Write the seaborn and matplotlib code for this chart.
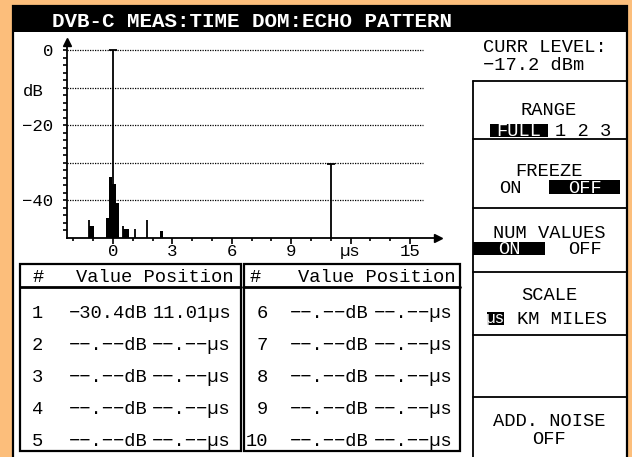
import matplotlib
matplotlib.use("Agg")
import matplotlib.pyplot as plt
from matplotlib.patches import Rectangle
import seaborn as sns

# echo data (µs, dB)
stem_us = [-1.22, 0.0, 0.52, 1.12, 1.74, 11.01]
stem_db = [-45.3, 0.0, -46.7, -47.6, -45.3, -30.4]
block_us = [-1.12, -1.03, -0.27, -0.13, 0.05, 0.23, 0.61, 0.72, 2.44]
block_db = [-46.7, -46.7, -44.8, -33.7, -35.6, -40.8, -47.7, -47.7, -48.1]
floor_db = -50

grid_db = [0, -10, -20, -30, -40]
ytick_labels = ["0", "", "−20", "", "−40"]
xtick_vals = [0, 3, 6, 9, 12, 15]
xtick_labels = ["0", "3", "6", "9", "µs", "15"]

title = "DVB-C MEAS:TIME DOM:ECHO PATTERN"
curr_level = ["CURR LEVEL:", "−17.2 dBm"]
echo_no = ["1", "2", "3", "4", "5", "6", "7", "8", "9", "10"]
echo_val = ["−30.4dB"] + ["−−.−−dB"] * 9
echo_pos = ["11.01µs"] + ["−−.−−µs"] * 9

sns.set_style("white")
plt.rcParams["font.family"] = ["Liberation Mono", "DejaVu Sans Mono"]
plt.rcParams["text.color"] = "k"

W, H = 632, 457
fig = plt.figure(figsize=(W / 100, H / 100), dpi=100, facecolor="#FCBE7B")

# ---- screen furniture, drawn in pixel coords
bg = fig.add_axes([0, 0, 1, 1])
bg.set_xlim(0, W)
bg.set_ylim(H, 0)
bg.axis("off")

FS = 13.5


def txt(x, y, s, size=FS, **kw):
    # y is the vertical middle of the capitals (of the last line), in pixels
    bg.text(x, y + 0.32 * size * 100 / 72, s, fontsize=size, va="baseline", **kw)


bg.add_patch(Rectangle((12.5, 6), 614, 470, fc="white", ec="k", lw=1.6))
bg.add_patch(Rectangle((12.5, 6), 614, 26, fc="k", lw=0))
txt(52, 20.5, title, size=15, color="white", fontweight="bold", ha="left")

txt(483, 63.5, "\n".join(curr_level), ha="left", linespacing=1.05)

# right soft-key panel
bg.plot([473, 473], [81, 470], color="k", lw=1.3)
for y in [81, 139, 208, 272, 335, 397]:
    bg.plot([473, 626], [y, y], color="k", lw=1.3)
PC = 549
txt(PC, 109, "RANGE", ha="center")
bg.add_patch(Rectangle((490, 124), 58, 13, fc="k", lw=0))
txt(519, 130.5, "FULL", ha="center", color="white")
txt(583, 130.5, "1 2 3", ha="center")

txt(PC, 170, "FREEZE", ha="center")
txt(510, 187, "ON", ha="center")
bg.add_patch(Rectangle((549, 180), 71, 14, fc="k", lw=0))
txt(585, 187, "OFF", ha="center", color="white")

txt(PC, 232, "NUM VALUES", ha="center")
bg.add_patch(Rectangle((473, 242), 72, 13, fc="k", lw=0))
txt(509, 248.5, "ON", ha="center", color="white")
txt(585, 248.5, "OFF", ha="center")

txt(PC, 294, "SCALE", ha="center")
bg.add_patch(Rectangle((487, 312), 17, 13, fc="k", lw=0))
txt(495.5, 317.5, "µs", size=FS - 2, ha="center", color="white")
txt(562, 318.5, "KM MILES", ha="center")

txt(PC, 420.5, "ADD. NOISE", ha="center")
txt(PC, 437.5, "OFF", ha="center")

# echo tables
tables = [(20, 241, 38, 43, 69, 231, 234), (244, 460, 255, 268, 290, 453, 455)]
for t, (xl, xr, xhash, xno, xval, xpos, xhead) in enumerate(tables):
    bg.add_patch(Rectangle((xl, 264), xr - xl, 187, fill=False, ec="k", lw=1.6))
    bg.plot([xl, xr], [287, 287], color="k", lw=2)
    txt(xhash, 276, "#", ha="center")
    txt(xhead, 276, "Value Position", ha="right")
    for r in range(5):
        i = t * 5 + r
        y = 311.5 + 32.1 * r
        txt(xno, y, echo_no[i], ha="right")
        txt(xval, y, echo_val[i], ha="left")
        txt(xpos, y, echo_pos[i], ha="right")

# ---- echo pattern plot
US0, PX_US = 113, 19.8
DB0, PX_DB = 50, 3.76
X0, X1, Y0, Y1 = 67, 438, 238, 42
ax = fig.add_axes([X0 / W, 1 - Y0 / H, (X1 - X0) / W, (Y0 - Y1) / H])
ax.set_facecolor("none")
xmin, xmax = (X0 - US0) / PX_US, (X1 - US0) / PX_US
ax.set_xlim(xmin, xmax)
ax.set_ylim(floor_db, (DB0 - Y1) / PX_DB)

ax.hlines(grid_db, xmin, 15.66, colors="k", linestyles=(0, (1, 1)), lw=0.9)
ax.bar(block_us, [d - floor_db for d in block_db], bottom=floor_db, width=0.18,
       color="k", linewidth=0)
ax.vlines(stem_us, floor_db, stem_db, colors="k", lw=1.3)
caps = [(x, y) for x, y in zip(stem_us, stem_db) if y > -40]
sns.scatterplot(x=[c[0] for c in caps], y=[c[1] for c in caps], marker="_", s=30,
                color="k", linewidth=1.3, ax=ax, zorder=5)

for s in ["top", "right"]:
    ax.spines[s].set_visible(False)
for s in ["left", "bottom"]:
    ax.spines[s].set_color("k")
    ax.spines[s].set_linewidth(1.3)
ax.plot(xmin, (DB0 - Y1) / PX_DB, marker="^", ms=5.5, color="k", clip_on=False)
ax.plot(xmax, floor_db, marker=">", ms=6, color="k", clip_on=False)

ax.set_xticks(xtick_vals, xtick_labels)
ax.set_xticks(range(-2, 16), minor=True)
ax.set_yticks(grid_db, ytick_labels)
ax.set_yticks(range(-48, 1, 2), minor=True)
ax.tick_params(axis="x", which="major", length=4.3, width=1.2, pad=0,
               labelsize=12.5, colors="k", direction="out", bottom=True)
ax.tick_params(axis="x", which="minor", length=2.5, width=1.2, colors="k",
               direction="out", bottom=True)
ax.tick_params(axis="y", which="both", length=3, width=1.2, pad=7,
               labelsize=12.5, colors="k", direction="out", left=True)
txt(23, 90.5, "dB", size=12.5, ha="left")

fig.savefig("out.png", dpi=100, facecolor=fig.get_facecolor())
